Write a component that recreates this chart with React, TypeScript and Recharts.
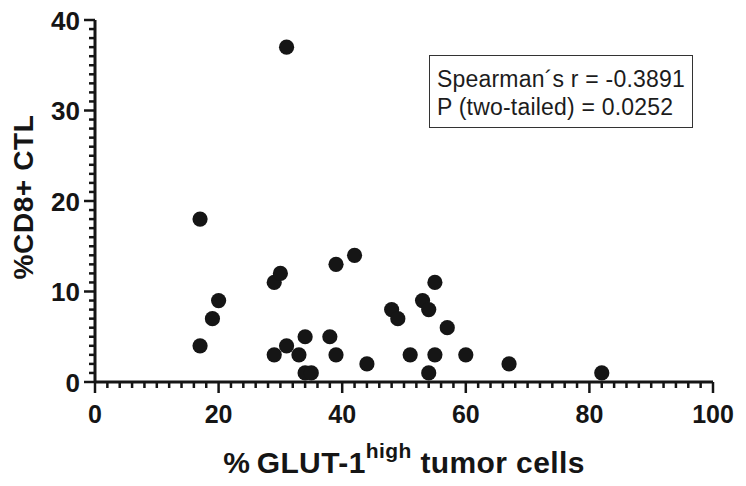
import { Label, Scatter, ScatterChart, XAxis, YAxis } from "recharts";

// one entry per patient
const glutHigh = [17, 17, 19, 20, 29, 30, 29, 31, 33, 34, 34, 35, 31, 38, 39, 39, 42, 44, 48, 49, 51, 53, 54, 55, 55, 54, 57, 60, 67, 82];
const cd8Ctl = [18, 4, 7, 9, 11, 12, 3, 4, 3, 5, 1, 1, 37, 5, 3, 13, 14, 2, 8, 7, 3, 9, 8, 11, 3, 1, 6, 3, 2, 1];

const xMajorTicks = [0, 20, 40, 60, 80, 100];
const yMajorTicks = [0, 10, 20, 30, 40];
const xMinorStep = 2;
const yMinorStep = 1;

const statLines = ["Spearman\u00b4s r = -0.3891", "P (two-tailed) = 0.0252"];

const points = glutHigh.map((x, i) => ({ x, y: cd8Ctl[i] }));

const stepTicks = (max: number, step: number) => {
  const out: number[] = [];
  for (let v = 0; v <= max; v += step) out.push(v);
  return out;
};

const xTicks = stepTicks(xMajorTicks[xMajorTicks.length - 1], xMinorStep);
const yTicks = stepTicks(yMajorTicks[yMajorTicks.length - 1], yMinorStep);

const INK = "#151515";

function XTick(props: any) {
  const { x, y, payload } = props;
  const major = xMajorTicks.includes(payload.value);
  return (
    <g>
      <line x1={x} x2={x} y1={y} y2={y + (major ? 11 : 6)} stroke={INK} strokeWidth={2.5} />
      {major && (
        <text x={x} y={y + 41} textAnchor="middle" fontSize={25} fontWeight="bold" fill={INK}>
          {payload.value}
        </text>
      )}
    </g>
  );
}

function YTick(props: any) {
  const { x, y, payload } = props;
  const major = yMajorTicks.includes(payload.value);
  return (
    <g>
      <line x1={x - (major ? 11 : 6)} x2={x} y1={y} y2={y} stroke={INK} strokeWidth={2.5} />
      {major && (
        <text x={x - 15} y={y} dy={9.5} textAnchor="end" fontSize={26} fontWeight="bold" fill={INK}>
          {payload.value}
        </text>
      )}
    </g>
  );
}

function XTitle(props: any) {
  const { x, y, width } = props.viewBox;
  return (
    <text
      x={x + width / 2}
      y={y + 91}
      textAnchor="middle"
      fontSize={30}
      fontWeight="bold"
      letterSpacing={0.4}
      fill={INK}
    >
      %{"\u2009"}GLUT-1
      <tspan dy={-15} fontSize={21}>high</tspan>
      <tspan dy={15}> tumor cells</tspan>
    </text>
  );
}

function YTitle(props: any) {
  const { x, y, height } = props.viewBox;
  const cx = x + 33;
  const cy = y + height / 2 - 4;
  return (
    <text
      x={cx}
      y={cy}
      textAnchor="middle"
      fontSize={28}
      fontWeight="bold"
      letterSpacing={0.6}
      fill={INK}
      transform={`rotate(-90, ${cx}, ${cy})`}
    >
      %CD8+ CTL
    </text>
  );
}

const Dot = (props: any) => <circle cx={props.cx} cy={props.cy} r={7.6} fill={INK} />;

export default function App() {
  return (
    <div
      style={{
        position: "absolute",
        left: 0,
        top: 0,
        width: 746,
        height: 486,
        background: "#fff",
        fontFamily: "'Liberation Sans', Arial, sans-serif",
      }}
    >
      <ScatterChart width={746} height={486} margin={{ top: 20, right: 33, bottom: 0, left: 0 }}>
        <XAxis
          type="number"
          dataKey="x"
          domain={[0, 100]}
          ticks={xTicks}
          interval={0}
          height={104}
          tickSize={0}
          tickMargin={0}
          tick={<XTick />}
          axisLine={{ stroke: INK, strokeWidth: 3 }}
        >
          <Label content={<XTitle />} />
        </XAxis>
        <YAxis
          type="number"
          dataKey="y"
          domain={[0, 40]}
          ticks={yTicks}
          interval={0}
          width={95}
          tickSize={0}
          tickMargin={0}
          tick={<YTick />}
          axisLine={{ stroke: INK, strokeWidth: 3 }}
        >
          <Label content={<YTitle />} />
        </YAxis>
        <Scatter data={points} shape={<Dot />} isAnimationActive={false} />
      </ScatterChart>
      <div
        style={{
          position: "absolute",
          left: 429,
          top: 55,
          width: 264,
          height: 73,
          boxSizing: "border-box",
          border: "1.5px solid #333",
          fontSize: 23,
          lineHeight: "28px",
          letterSpacing: 0.2,
          color: "#1c1c1c",
          padding: "9px 0 0 7px",
        }}
      >
        {statLines.map((s) => (
          <div key={s} style={{ whiteSpace: "nowrap" }}>
            {s}
          </div>
        ))}
      </div>
    </div>
  );
}
